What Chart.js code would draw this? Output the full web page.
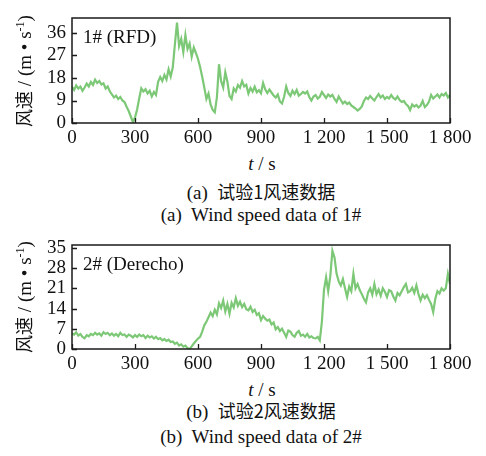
<!DOCTYPE html>
<html>
<head>
<meta charset="utf-8">
<script src="https://cdn.jsdelivr.net/npm/chart.js@4.4.1/dist/chart.umd.min.js"></script>
<style>
  html, body { margin:0; padding:0; background:#fff; }
  body { width:486px; height:456px; position:relative; overflow:hidden; color:#111; }
  canvas { position:absolute; left:0; }
  .txt { position:absolute; white-space:nowrap; font-size:19px; line-height:1; transform:translate(-50%,-50%); }
  .ytitle { position:absolute; white-space:nowrap; font-size:19px; line-height:1; transform:translate(-50%,-50%) rotate(-90deg); }
  .cjk { font-family:"Noto Sans CJK SC",sans-serif; font-size:18px; }
  sup { font-size:12px; vertical-align:7px; line-height:0; }
</style>
</head>
<body>
<canvas id="c1" width="486" height="150" style="top:0px"></canvas>
<canvas id="c2" width="486" height="150" style="top:227px"></canvas>

<div class="ytitle" style="left:24px; top:71px;"><span class="cjk">风速</span> / (m • s<sup>-1</sup>)</div>
<div class="txt" style="left:262px; top:163px;"><i>t</i> / s</div>
<div class="txt" style="left:261px; top:192px;">(a)&nbsp; <span class="cjk">试验1风速数据</span></div>
<div class="txt" style="left:261px; top:214px;">(a)&nbsp; Wind speed data of 1#</div>

<div class="ytitle" style="left:24px; top:297px;"><span class="cjk">风速</span> / (m • s<sup>-1</sup>)</div>
<div class="txt" style="left:262px; top:389px;"><i>t</i> / s</div>
<div class="txt" style="left:261px; top:411px;">(b)&nbsp; <span class="cjk">试验2风速数据</span></div>
<div class="txt" style="left:261px; top:436px;">(b)&nbsp; Wind speed data of 2#</div>

<script>
// ---- data ----
const times = Array.from({length:181}, (_, i) => i * 10); // seconds, 10 s sampling

const speed1 = [
14.5,13.2,15.0,13.8,14.6,12.9,14.2,15.8,14.6,16.4,15.2,17.3,16.0,16.8,15.4,15.9,13.8,14.6,12.7,11.4,
10.2,10.9,9.6,10.4,9.0,8.4,6.5,4.8,2.6,0.4,2.2,5.4,9.8,13.9,12.6,13.5,11.8,12.9,10.6,12.4,
11.2,16.5,18.4,16.8,19.2,17.4,21.5,18.6,22.3,31.5,40.2,30.8,33.6,28.4,35.2,29.6,31.8,26.5,30.2,28.0,
25.6,22.4,18.5,14.2,9.6,11.8,7.4,5.2,4.3,10.2,23.5,16.8,14.2,20.3,16.5,10.8,9.6,13.8,12.6,15.2,
14.1,16.8,14.6,15.3,11.8,14.0,12.6,14.5,12.3,13.1,11.9,16.0,13.5,12.0,13.4,12.2,11.0,10.2,11.4,8.6,
7.8,10.5,14.6,12.0,10.8,12.9,11.6,13.2,10.9,11.6,12.4,11.8,12.6,10.4,9.0,10.6,11.2,9.8,10.5,12.4,
11.2,10.0,11.4,10.6,11.2,9.6,8.4,10.6,9.2,7.8,8.6,7.6,8.2,7.0,6.4,5.8,5.0,5.6,6.6,8.8,
10.2,9.6,10.8,9.8,9.0,10.4,11.6,10.2,11.0,9.6,10.4,9.8,11.2,10.0,9.4,10.6,9.2,8.4,8.8,7.6,
6.8,5.2,7.4,6.6,7.2,6.2,7.0,8.8,6.4,7.2,8.6,11.2,9.8,10.6,11.4,10.2,11.6,11.0,12.0,10.2,
11.2
];

const speed2 = [
5.4,5.0,5.8,4.6,5.2,4.2,3.7,4.8,4.4,5.2,4.8,5.6,5.0,5.4,4.6,5.8,5.2,5.6,4.8,5.4,
4.6,5.2,4.4,5.6,4.8,5.0,4.2,5.0,4.6,4.0,4.8,4.2,5.0,4.4,4.8,3.8,4.6,4.0,4.4,3.6,
4.2,3.4,3.8,3.0,3.4,2.8,3.2,2.4,2.6,1.8,2.2,1.2,1.6,0.8,1.2,0.3,0.0,0.9,1.9,2.8,
3.6,4.2,6.0,8.2,9.4,11.0,12.6,11.4,13.6,12.0,15.8,14.2,16.8,13.0,15.6,12.2,16.0,14.4,17.6,15.0,
16.4,14.5,15.6,13.8,13.4,14.6,12.8,13.6,11.8,12.4,10.0,11.4,10.5,9.8,10.2,8.5,9.2,6.8,7.6,6.2,
7.0,5.6,4.2,6.4,6.0,4.8,4.2,5.6,6.2,4.6,5.0,4.2,5.2,4.0,4.4,3.8,3.7,4.2,3.0,9.5,
20.5,24.8,20.0,25.2,34.0,31.7,26.0,23.4,22.0,24.2,21.0,18.0,21.6,20.0,26.0,21.0,22.5,20.4,19.0,17.4,
16.2,19.6,21.0,18.8,22.5,19.0,20.6,18.4,21.0,19.8,18.0,20.4,20.0,18.2,16.8,19.4,18.6,20.0,21.4,22.5,
19.6,20.0,21.2,19.4,22.0,19.0,16.8,18.8,17.6,18.6,17.0,15.6,12.8,17.4,20.0,19.2,21.0,20.2,21.0,26.0,
22.5
];

const xTicks = [0, 300, 600, 900, 1200, 1500, 1800];
const xTickLabels = ['0', '300', '600', '900', '1 200', '1 500', '1 800'];
const yTicks1 = [0, 9, 18, 27, 36];
const yTicks2 = [0, 7, 14, 21, 28, 35];
const label1 = '1# (RFD)';
const label2 = '2# (Derecho)';

// ---- pick an installed serif face ----
function pickSerif() {
  const cands = ['Liberation Serif', 'Tinos', 'Times New Roman', 'Nimbus Roman', 'Nimbus Roman No9 L',
                 'FreeSerif', 'DejaVu Serif', 'Noto Serif', 'Noto Serif CJK SC', 'Source Han Serif SC'];
  const c = document.createElement('canvas').getContext('2d');
  const probe = 'Wind speed 1 800 RFDmwiIl';
  const base = {};
  ['monospace', 'sans-serif'].forEach(b => { c.font = '40px ' + b; base[b] = c.measureText(probe).width; });
  for (const f of cands) {
    let ok = true;
    for (const b of ['monospace', 'sans-serif']) {
      c.font = '40px "' + f + '", ' + b;
      if (Math.abs(c.measureText(probe).width - base[b]) < 0.01) { ok = false; break; }
    }
    if (ok) return '"' + f + '", serif';
  }
  return 'serif';
}
const FONT = pickSerif();
document.body.style.fontFamily = FONT;

// ---- drawing ----
const frameTicks = {
  id: 'frameTicks',
  afterDraw(chart, args, opts) {
    const {ctx, chartArea: a, scales: {x, y}} = chart;
    ctx.save();
    ctx.strokeStyle = '#1a1a1a';
    ctx.lineWidth = 1.5;
    ctx.strokeRect(a.left, a.top, a.right - a.left, a.bottom - a.top);
    ctx.lineWidth = 1.3;
    ctx.beginPath();
    x.ticks.forEach(t => {
      const px = Math.round(x.getPixelForValue(t.value)) + 0.5;
      ctx.moveTo(px, a.bottom); ctx.lineTo(px, a.bottom - 5);
    });
    y.ticks.forEach(t => {
      const py = Math.round(y.getPixelForValue(t.value)) + 0.5;
      ctx.moveTo(a.left, py); ctx.lineTo(a.left + 5, py);
    });
    ctx.stroke();
    ctx.fillStyle = '#111';
    ctx.font = '19px ' + FONT;
    ctx.textBaseline = 'alphabetic';
    ctx.textAlign = 'left';
    ctx.fillText(opts.label, a.left + 11, a.top + 25);
    ctx.restore();
  }
};

function makeChart(id, values, yMax, yTicks, label, xAxisH) {
  const data = values.map((v, i) => ({x: times[i], y: v}));
  return new Chart(document.getElementById(id), {
    type: 'line',
    data: { datasets: [{
      data,
      borderColor: 'rgb(124,200,118)',
      borderWidth: 2.2,
      pointRadius: 0,
      tension: 0,
      fill: false
    }]},
    options: {
      responsive: false,
      animation: false,
      devicePixelRatio: 1,
      layout: { padding: { top: 18, right: 36, left: 0, bottom: 0 } },
      plugins: { legend: { display: false }, tooltip: { enabled: false }, frameTicks: { label } },
      scales: {
        x: {
          type: 'linear', min: 0, max: 1800,
          grid: { display: false, drawTicks: false },
          border: { display: false },
          afterBuildTicks: s => { s.ticks = xTicks.map(v => ({value: v})); },
          afterFit: s => { s.height = xAxisH; },
          ticks: {
            autoSkip: false, maxRotation: 0, padding: 4, color: '#111',
            font: { family: FONT, size: 19 },
            callback: v => { const k = xTicks.indexOf(v); return k >= 0 ? xTickLabels[k] : ''; }
          }
        },
        y: {
          type: 'linear', min: 0, max: yMax,
          grid: { display: false, drawTicks: false },
          border: { display: false },
          afterBuildTicks: s => { s.ticks = yTicks.map(v => ({value: v})); },
          afterFit: s => { s.width = 72; },
          ticks: {
            autoSkip: false, padding: 6, color: '#111',
            font: { family: FONT, size: 19 }
          }
        }
      }
    },
    plugins: [frameTicks]
  });
}

makeChart('c1', speed1, 42, yTicks1, label1, 27);
makeChart('c2', speed2, 36, yTicks2, label2, 28);
</script>
</body>
</html>
